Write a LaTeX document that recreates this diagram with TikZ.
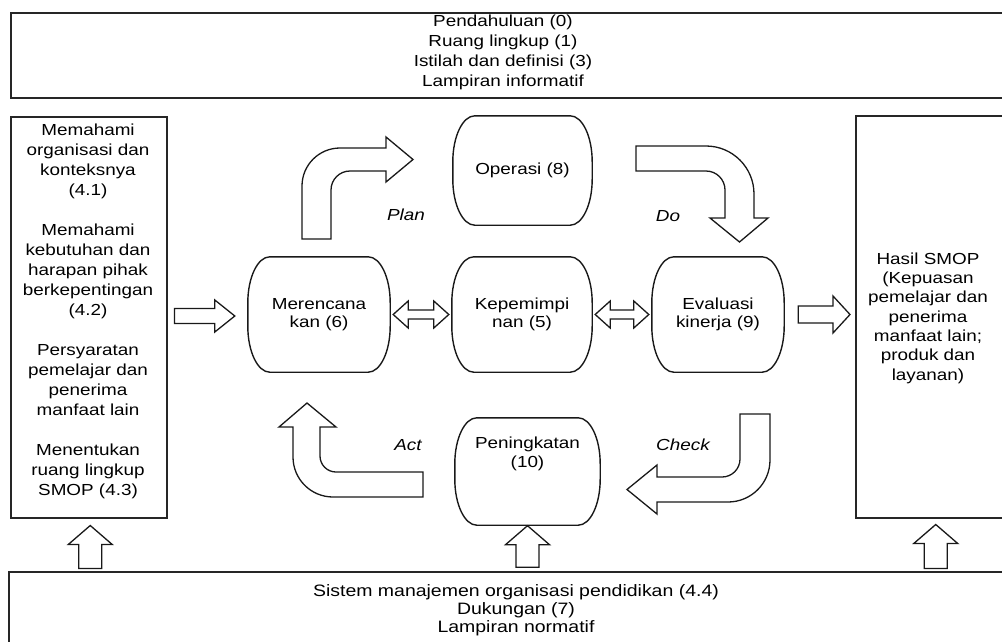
\documentclass[tikz,border=0pt]{standalone}
\usepackage{fontspec}
\setmainfont{Liberation Sans}[FakeStretch=1.18]
\usetikzlibrary{calc}
\tikzset{
  box/.style={draw=black!85, line width=1.5pt, rectangle, inner sep=0pt, anchor=north west},
  txt/.style={align=center, inner sep=0pt, font=\fontsize{16}{20}\selectfont},
  barrelnode/.style 2 args={rectangle, inner sep=0pt, minimum width=#1pt, minimum height=#2pt, align=center, font=\fontsize{16}{18.5}\selectfont},
  nodeline/.style={draw=black!90, line width=1.4pt},
  arr/.style={draw=black!90, line width=1.3pt, fill=white, line join=miter},
  lab/.style={inner sep=0pt, font=\fontsize{16}{18}\selectfont\itshape}
}
% outline with large elliptical corners round a named node
\newcommand\barrel[1]{%
  \draw[nodeline] ([xshift=22pt]#1.north west) -- ([xshift=-22pt]#1.north east)
    .. controls ([xshift=-9.9pt]#1.north east) and ([yshift=-20.6pt]#1.north east) .. ([yshift=-46pt]#1.north east)
    -- ([yshift=46pt]#1.south east)
    .. controls ([yshift=20.6pt]#1.south east) and ([xshift=-9.9pt]#1.south east) .. ([xshift=-22pt]#1.south east)
    -- ([xshift=22pt]#1.south west)
    .. controls ([xshift=9.9pt]#1.south west) and ([yshift=20.6pt]#1.south west) .. ([yshift=46pt]#1.south west)
    -- ([yshift=-46pt]#1.north west)
    .. controls ([yshift=-20.6pt]#1.north west) and ([xshift=9.9pt]#1.north west) .. cycle;}
% block arrow pointing right: from, tip, stem half, head half, head length
\newcommand\rarrow[5]{\draw[arr] let \p1=(#1), \p2=(#2) in
  (\x1,\y1+#3) -- (\x2-#5,\y1+#3) -- (\x2-#5,\y1+#4) -- (\x2,\y1) -- (\x2-#5,\y1-#4) -- (\x2-#5,\y1-#3) -- (\x1,\y1-#3) -- cycle;}
% double-headed block arrow
\newcommand\darrow[5]{\draw[arr] let \p1=(#1), \p2=(#2) in
  (\x1,\y1) -- (\x1+#5,\y1+#4) -- (\x1+#5,\y1+#3) -- (\x2-#5,\y1+#3) -- (\x2-#5,\y1+#4) -- (\x2,\y1)
  -- (\x2-#5,\y1-#4) -- (\x2-#5,\y1-#3) -- (\x1+#5,\y1-#3) -- (\x1+#5,\y1-#4) -- cycle;}
% block arrow pointing up: from (bottom), tip, stem half, head half, head length
\newcommand\uarrow[5]{\draw[arr] let \p1=(#1), \p2=(#2) in
  (\x1-#3,\y1) -- (\x1-#3,\y2-#5) -- (\x1-#4,\y2-#5) -- (\x1,\y2) -- (\x1+#4,\y2-#5) -- (\x1+#3,\y2-#5) -- (\x1+#3,\y1) -- cycle;}

\begin{document}
\begin{tikzpicture}[x=1pt,y=-1pt]
\useasboundingbox (0,0) rectangle (1002,641);
\clip (0,0) rectangle (1002,641);

% frame boxes
\node[box, minimum width=1010pt, minimum height=85pt] (topbox) at (10,12) {};
\node[txt] (toptext) at (503,52.5) {Pendahuluan (0)\\Ruang lingkup (1)\\Istilah dan definisi (3)\\Lampiran informatif};

\node[box, minimum width=156pt, minimum height=401pt] (leftbox) at (10,116) {};
\node[txt] (lefttext) at (88,311.5) {Memahami\\organisasi dan\\konteksnya\\(4.1)\\[20pt]Memahami\\kebutuhan dan\\harapan pihak\\berkepentingan\\(4.2)\\[20pt]Persyaratan\\pemelajar dan\\penerima\\manfaat lain\\[20pt]Menentukan\\ruang lingkup\\SMOP (4.3)};

\node[box, minimum width=160pt, minimum height=402pt] (rightbox) at (855,115) {};
\node[txt, font=\fontsize{16}{19.3}\selectfont] (righttext) at (928,318) {Hasil SMOP\\(Kepuasan\\pemelajar dan\\penerima\\manfaat lain;\\produk dan\\layanan)};

\node[box, minimum width=1010pt, minimum height=100pt] (bottombox) at (8,571) {};
\node[txt, font=\fontsize{16.5}{18}\selectfont] (bottomtext) at (516,610) {Sistem manajemen organisasi pendidikan (4.4)\\Dukungan (7)\\Lampiran normatif};

% process nodes
\node[barrelnode={142}{115}] (n6) at (319,314.5) {Merencana\\kan (6)};
\node[barrelnode={140}{115}] (n5) at (522,314.5) {Kepemimpi\\nan (5)};
\node[barrelnode={132}{115}] (n9) at (718,314.5) {Evaluasi\\kinerja (9)};
\node[barrelnode={139}{109}] (n8) at (522.5,170.5) {Operasi (8)};
\node[barrelnode={145}{107}] (n10) at (527.5,471.5) {};
\node[txt, font=\fontsize{16}{19}\selectfont] (n10text) at ($(n10)+(0,-18)$) {Peningkatan\\(10)};
\barrel{n6}\barrel{n5}\barrel{n9}\barrel{n8}\barrel{n10}

% straight block arrows
\rarrow{$(leftbox.east|-n6.west)+(7,1.5)$}{$(n6.west)+(-13,1.5)$}{7.5pt}{16pt}{20pt}
\darrow{$(n6.east)+(3,0)$}{$(n5.west)+(-3,0)$}{4.5pt}{13.5pt}{15pt}
\darrow{$(n5.east)+(3,0)$}{$(n9.west)+(-3,0)$}{4.5pt}{13.5pt}{15pt}
\rarrow{$(n9.east)+(14,0)$}{$(rightbox.west|-n9.east)+(-5,0)$}{8.5pt}{18.5pt}{17pt}

\uarrow{$(leftbox.south)+(1.5,50)$}{$(leftbox.south)+(1.5,7)$}{11.5pt}{22pt}{19pt}
\uarrow{$(n10.south)+(0,42)$}{$(n10.south)+(0,0.5)$}{11.5pt}{22pt}{19pt}
\uarrow{$(rightbox.south)+(0,50)$}{$(rightbox.south)+(0,6)$}{11.5pt}{22pt}{19pt}

% curved block arrows of the cycle
% Plan
\draw[arr] (302,239) -- (302,186) arc[start angle=180, end angle=90, radius=38pt]
  -- (386,148) -- (386,137) -- (413,159.5) -- (386,182) -- (386,171) -- (350,171)
  arc[start angle=90, end angle=180, radius=19pt] -- (331,239) -- cycle;
% Do
\draw[arr] (636,146) -- (706,146) arc[start angle=90, end angle=0, radius=48pt]
  -- (754,218) -- (768,218) -- (739.5,242) -- (710,218) -- (725,218) -- (725,190)
  arc[start angle=0, end angle=90, radius=19pt] -- (636,171) -- cycle;
% Check
\draw[arr] (740,414) -- (770,414) -- (770,460) arc[start angle=0, end angle=-90, radius=42pt]
  -- (657,502) -- (657,514) -- (627,489.5) -- (657,465) -- (657,477) -- (722,477)
  arc[start angle=270, end angle=360, radius=18pt] -- cycle;
% Act
\draw[arr] (423,472) -- (336,472) arc[start angle=270, end angle=180, radius=16pt]
  -- (320,427) -- (336,427) -- (307,403) -- (279,427) -- (293,427) -- (293,457)
  arc[start angle=180, end angle=270, radius=40pt] -- (423,497) -- cycle;

% PDCA labels
\node[lab] (plan) at (406,215) {Plan};
\node[lab] (do) at (668,216) {Do};
\node[lab] (act) at (408,445) {Act};
\node[lab] (check) at (683,445) {Check};
\end{tikzpicture}
\end{document}
